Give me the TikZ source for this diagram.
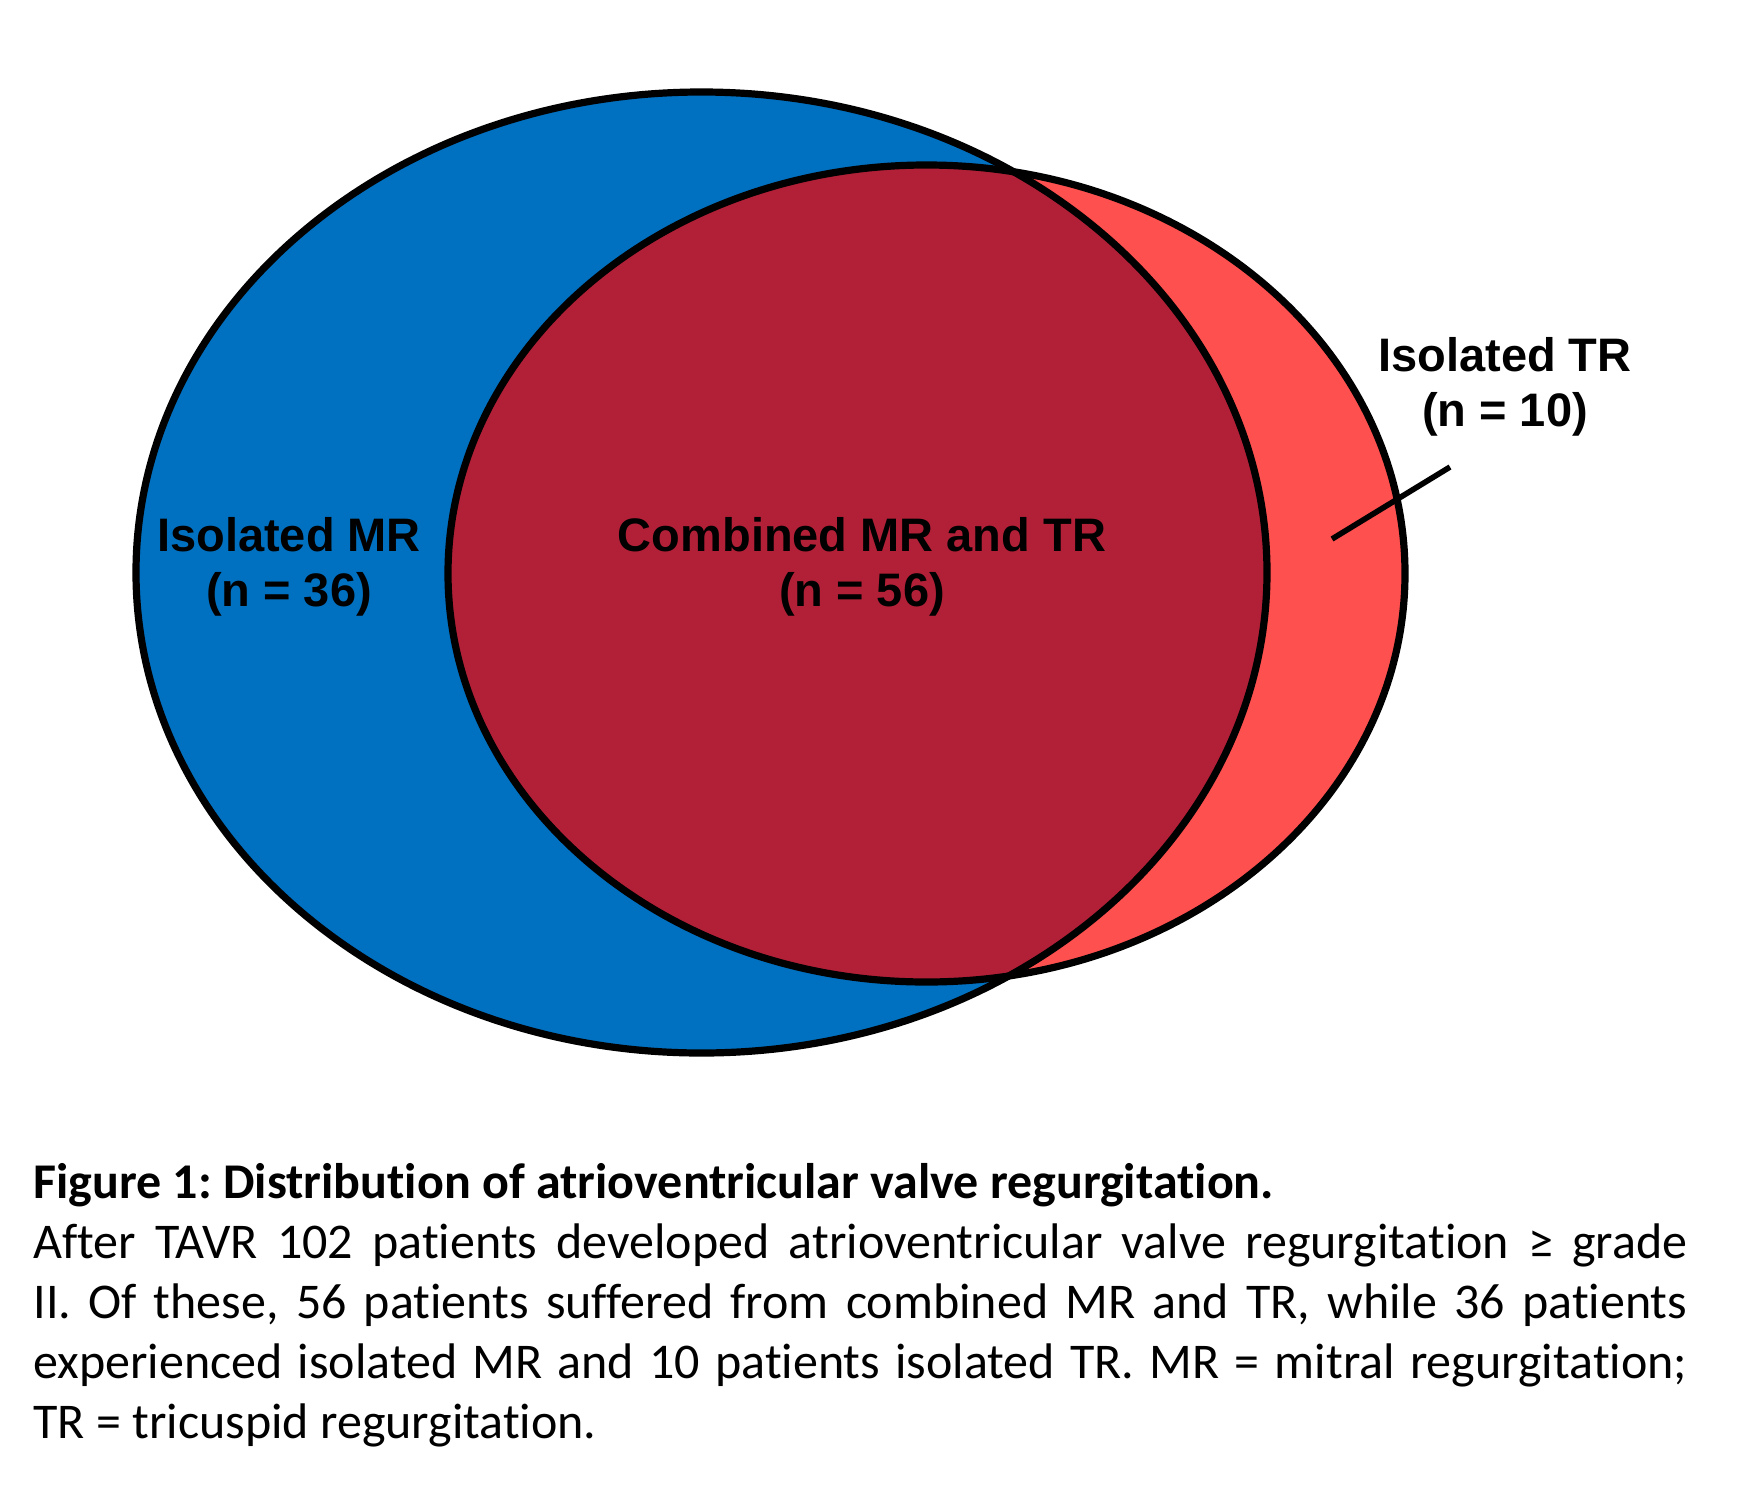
\documentclass[tikz,border=0pt]{standalone}
\usepackage{fontspec}
\setmainfont{Carlito}[Ligatures={NoCommon}]
\newfontfamily\labelfont{Liberation Sans}
\definecolor{mrblue}{RGB}{0,112,192}
\definecolor{trred}{RGB}{255,80,80}
\definecolor{bothred}{RGB}{178,32,56}
\frenchspacing
\tikzset{
  outline/.style={draw=black, line width=3.6pt},
  vennlabel/.style={font=\labelfont\bfseries\fontsize{23.5pt}{27.5pt}\selectfont, align=center, inner sep=0pt},
  caption/.style={font=\fontsize{25pt}{30pt}\selectfont, text width=827pt, align=justify, inner sep=0pt}
}
\begin{document}
\begin{tikzpicture}[x=0.5pt, y=-0.5pt]
\useasboundingbox (0,0) rectangle (1750,1489);
\fill[white] (0,0) rectangle (1750,1489);

% regions
\fill[mrblue] (701.5,572.5) ellipse [x radius=565.5, y radius=480.5];
\fill[trred] (926.5,573.5) ellipse [x radius=478.5, y radius=408.5];
\begin{scope}
\clip (701.5,572.5) ellipse [x radius=565.5, y radius=480.5];
\fill[bothred] (926.5,573.5) ellipse [x radius=478.5, y radius=408.5];
\end{scope}
\draw[outline] (701.5,572.5) ellipse [x radius=565.5, y radius=480.5];
\draw[outline] (926.5,573.5) ellipse [x radius=478.5, y radius=408.5];

% labels
\node[vennlabel] (isomr) at (289,567) {Isolated MR\\(n = 36)};
\node[vennlabel] (both) at (862,567) {Combined MR and TR\\(n = 56)};
\node[vennlabel] (isotr) at (1505,387) {Isolated TR\\(n = 10)};
\coordinate (trtip) at (1450,467);
\coordinate (trend) at (1332,539);
\draw[line width=2.8pt] (trtip) -- (trend);

% caption
\node[caption, anchor=base west] (cap) at (33,1198) {\textbf{Figure 1: Distribution of atrioventricular valve regurgitation.}\par
After TAVR 102 patients developed atrioventricular valve regurgitation ≥ grade\linebreak
II. Of these, 56 patients suffered from combined MR and TR, while 36 patients\linebreak
experienced isolated MR and 10 patients isolated TR. MR = mitral regurgitation;\linebreak
TR = tricuspid regurgitation.};
\end{tikzpicture}
\end{document}
